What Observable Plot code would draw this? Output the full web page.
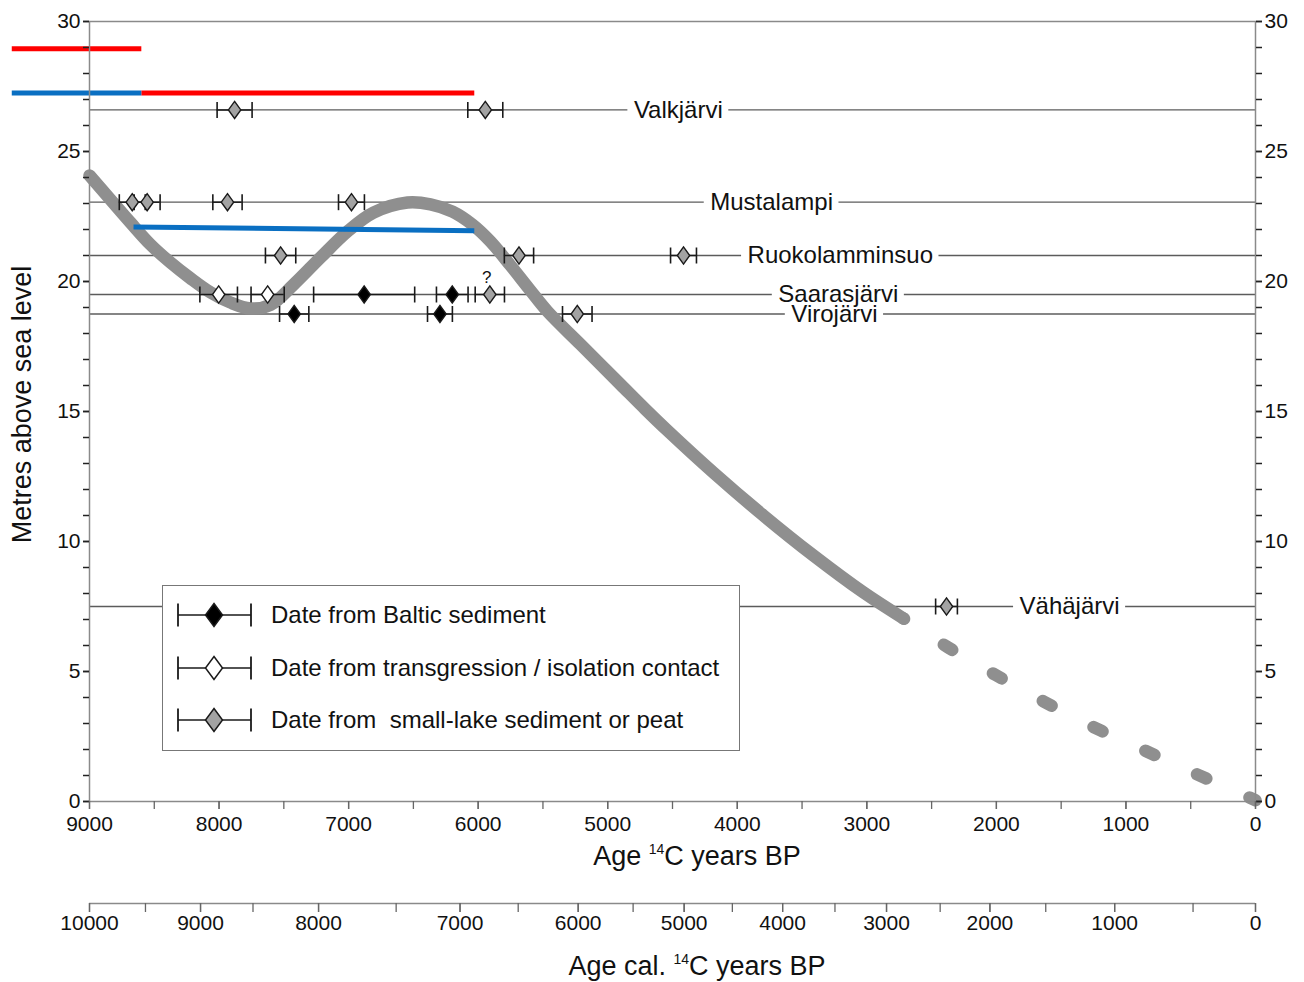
<!DOCTYPE html>
<html><head><meta charset="utf-8">
<script src="https://cdn.jsdelivr.net/npm/d3@7"></script>
<script src="https://cdn.jsdelivr.net/npm/@observablehq/plot@0.6"></script>
<style>
body{margin:0;background:#fff;font-family:"Liberation Sans",Arial,sans-serif;color:#111;}
#wrap{position:relative;width:1304px;height:982px;overflow:hidden;background:#fff;}
.abs{position:absolute;}
.title{font-size:27px;line-height:27px;text-align:center;white-space:nowrap;}
.title .sup{font-size:14px;position:relative;top:-11px;}
#legend{left:162px;top:585px;width:578px;height:166px;box-sizing:border-box;border:1.3px solid #777;background:#fff;}
#legend .row{position:absolute;left:14px;height:30px;display:flex;align-items:center;}
#legend .row span{font-size:24px;margin-left:18px;white-space:pre;}
</style></head><body><div id="wrap"></div>
<script>
// ---------- data ----------
const lakeNames = ["Valkjärvi", "Mustalampi", "Ruokolamminsuo", "Saarasjärvi", "Virojärvi", "Vähäjärvi"];
const lakeElev = [26.6, 23.05, 21.0, 19.5, 18.75, 7.5];
const lakeLabelAge = [4455, 3735, 3205, 3220, 3250, 1435];

const dateLake = ["Valkjärvi", "Valkjärvi",
  "Mustalampi", "Mustalampi", "Mustalampi", "Mustalampi",
  "Ruokolamminsuo", "Ruokolamminsuo", "Ruokolamminsuo",
  "Saarasjärvi", "Saarasjärvi", "Saarasjärvi", "Saarasjärvi", "Saarasjärvi",
  "Virojärvi", "Virojärvi", "Virojärvi",
  "Vähäjärvi"];
const dateAge = [7880, 5945, 8670, 8555, 7935, 6978, 7525, 5685, 4415, 8003, 7625, 6880, 6200, 5910, 7420, 6295, 5235, 2385];
const dateErr = [135, 135, 100, 100, 113, 100, 117, 113, 100, 145, 128, 390, 122, 113, 113, 96, 114, 84];
const dateType = ["lake", "lake", "lake", "lake", "lake", "lake", "lake", "lake", "lake",
  "contact", "contact", "baltic", "baltic", "lake", "baltic", "baltic", "lake", "lake"];
const dateQuery = [false, false, false, false, false, false, false, false, false,
  false, false, false, false, true, false, false, false, false];

const typeKeys = ["baltic", "contact", "lake"];
const typeLabels = ["Date from Baltic sediment", "Date from transgression / isolation contact", "Date from  small-lake sediment or peat"];

// shore displacement curve (solid part) and extrapolated (dashed) part
const shoreAge = [9000, 8838, 8684, 8529, 8375, 8220, 8066, 7912, 7757, 7603, 7425, 7217, 7009, 6808, 6545, 6368, 6198, 6044, 5905, 5751, 5596, 5465, 5210, 4901, 4708, 4539, 4184, 3798, 3412, 3026, 2717];
const shoreElev = [24.08, 23.15, 22.27, 21.42, 20.73, 20.12, 19.58, 19.19, 18.96, 19.1, 19.88, 20.92, 21.92, 22.65, 23.04, 22.97, 22.69, 22.19, 21.54, 20.62, 19.65, 18.85, 17.58, 16.04, 15.08, 14.27, 12.65, 11.0, 9.46, 8.04, 7.04];
const dashAge = [2717, 2370, 2000, 1636, 1258, 872, 486, 100, 0];
const dashElev = [7.04, 5.92, 4.85, 3.85, 2.88, 2.0, 1.12, 0.27, 0.05];

// level indications (two series)
const levelSeries = ["A", "B", "A", "B"];
const levelAge1 = [9600, 9600, 8600, 8660];
const levelAge2 = [8600, 8600, 6030, 6030];
const levelElev1 = [28.95, 27.25, 27.25, 22.1];
const levelElev2 = [28.95, 27.25, 27.25, 21.95];

// axes
const yMajor = [0, 5, 10, 15, 20, 25, 30];
const yMinor = d3.range(0, 31, 1);
const xMajor = [9000, 8000, 7000, 6000, 5000, 4000, 3000, 2000, 1000, 0];
const xMinor = d3.range(0, 9001, 500);
// calibrated years and their 14C-age equivalents
const calAge = [10000, 9500, 9000, 8500, 8000, 7500, 7000, 6500, 6000, 5500, 5000, 4500, 4000, 3500, 3000, 2500, 2000, 1500, 1000, 500, 0];
const calC14 = [9000, 8568, 8143, 7738, 7232, 6633, 6140, 5691, 5228, 4804, 4410, 4038, 3650, 3246, 2848, 2434, 2050, 1619, 1087, 482, 0];

// ---------- layout constants ----------
const FONT = "'Liberation Sans', Arial, sans-serif";
const M = {left: 89, right: 49, top: 21, bottom: 79};
const W = 1304, H = 880;
const LABEL_SIZE = 24, LABEL_PAD = 6;

// ---------- tables ----------
const xs = Plot.scale({x: {domain: [9000, 0], range: [M.left, W - M.right]}});
const yearsPerPx = xs.invert(0) - xs.invert(1);
const ctx = document.createElement("canvas").getContext("2d");
ctx.font = `${LABEL_SIZE}px 'Liberation Sans', Arial, sans-serif`;

const lakes = lakeNames.map((name, i) => ({name, elev: lakeElev[i], labelAge: lakeLabelAge[i], half: (ctx.measureText(name).width / 2 + LABEL_PAD) * yearsPerPx}));
const lakeSegs = lakes.flatMap(d => [
  {elev: d.elev, x1: 9000, x2: d.labelAge + d.half},
  {elev: d.elev, x1: d.labelAge - d.half, x2: 0}
]);
const elevOf = new Map(lakes.map(d => [d.name, d.elev]));
const dates = dateAge.map((age, i) => ({lake: dateLake[i], age, err: dateErr[i], type: dateType[i], query: dateQuery[i], elev: elevOf.get(dateLake[i])}));
const shore = shoreAge.map((a, i) => ({age: a, elev: shoreElev[i]}));
const dash = dashAge.map((a, i) => ({age: a, elev: dashElev[i]}));
const levels = levelSeries.map((s, i) => ({series: s, x1: levelAge1[i], x2: levelAge2[i], y1: levelElev1[i], y2: levelElev2[i]}));
const cal = calAge.map((c, i) => ({cal: c, c14: calC14[i]}));
const calLabelOf = new Map(cal.map(d => [d.c14, String(d.cal)]));

// ---------- symbols ----------
const diamond = {draw(c, size) { const r = Math.sqrt(size / Math.PI), h = r * 1.38; c.moveTo(0, -h); c.lineTo(r, 0); c.lineTo(0, h); c.lineTo(-r, 0); c.closePath(); }};
const cap = {draw(c, size) { const r = Math.sqrt(size / Math.PI); c.moveTo(0, -r); c.lineTo(0, r); }};

const fillOf = {baltic: "#000000", contact: "#ffffff", lake: "#a3a3a3"};

const wrap = document.getElementById("wrap");

const main = Plot.plot({
  width: W, height: H,
  marginLeft: M.left, marginRight: M.right, marginTop: M.top, marginBottom: M.bottom,
  style: {fontFamily: FONT, background: "white", color: "#111", overflow: "visible"},
  x: {domain: [9000, 0], label: null},
  y: {domain: [0, 30], label: null},
  color: {domain: typeKeys, range: typeKeys.map(k => fillOf[k])},
  marks: [
    Plot.ruleY(lakeSegs, {y: "elev", x1: "x1", x2: "x2", stroke: "#5c5c5c", strokeWidth: 1.3}),
    Plot.text(lakes, {x: "labelAge", y: "elev", text: "name", fontSize: LABEL_SIZE, fill: "#111"}),
    Plot.line(shore, {x: "age", y: "elev", stroke: "#8f8f8f", strokeWidth: 12.5, curve: "catmull-rom", strokeLinecap: "round", strokeLinejoin: "round"}),
    Plot.line(dash, {x: "age", y: "elev", stroke: "#8f8f8f", strokeWidth: 12.5, curve: "catmull-rom", strokeLinecap: "round", strokeDasharray: "10,47", strokeDashoffset: 9}),
    Plot.link(levels.filter(d => d.series === "A"), {x1: "x1", y1: "y1", x2: "x2", y2: "y2", stroke: "#ff0000", strokeWidth: 5}),
    Plot.link(levels.filter(d => d.series === "B"), {x1: "x1", y1: "y1", x2: "x2", y2: "y2", stroke: "#0a6fc2", strokeWidth: 5}),
    Plot.ruleY(dates, {y: "elev", x1: d => d.age + d.err, x2: d => d.age - d.err, stroke: "#1a1a1a", strokeWidth: 1.5}),
    Plot.dot(dates, {x: d => d.age + d.err, y: "elev", symbol: cap, r: 8, fill: "none", stroke: "#1a1a1a", strokeWidth: 1.6}),
    Plot.dot(dates, {x: d => d.age - d.err, y: "elev", symbol: cap, r: 8, fill: "none", stroke: "#1a1a1a", strokeWidth: 1.6}),
    Plot.dot(dates, {x: "age", y: "elev", symbol: diamond, r: 6.2, fill: "type", stroke: "#1a1a1a", strokeWidth: 1.4}),
    Plot.text(dates.filter(d => d.query), {x: "age", y: "elev", text: () => "?", dy: -17, dx: -3, fontSize: 17, fill: "#111"}),
    Plot.frame({stroke: "#8a8a8a", strokeWidth: 1.5}),
    Plot.axisY({anchor: "left", ticks: yMinor, tickSize: 6, tickFormat: () => "", stroke: "#222", strokeWidth: 1.5, label: null}),
    Plot.axisY({anchor: "left", ticks: yMajor, tickSize: 6, tickPadding: 3, tickFormat: d3.format("d"), fontSize: 21, stroke: "#222", strokeWidth: 1.5, label: null}),
    Plot.axisY({anchor: "right", ticks: yMinor, tickSize: 6, tickFormat: () => "", stroke: "#222", strokeWidth: 1.5, label: null}),
    Plot.axisY({anchor: "right", ticks: yMajor, tickSize: 6, tickPadding: 3, tickFormat: d3.format("d"), fontSize: 21, stroke: "#222", strokeWidth: 1.5, label: null}),
    Plot.axisX({anchor: "bottom", ticks: xMinor, tickSize: 8, tickFormat: () => "", stroke: "#666", strokeWidth: 1.3, label: null}),
    Plot.axisX({anchor: "bottom", ticks: xMajor, tickSize: 8, tickPadding: 7, tickFormat: d3.format("d"), fontSize: 21, stroke: "#666", strokeWidth: 1.3, label: null})
  ]
});
main.style.position = "absolute"; main.style.left = "0px"; main.style.top = "0px";
wrap.appendChild(main);

const calPlot = Plot.plot({
  width: W, height: 102,
  marginLeft: M.left, marginRight: M.right, marginTop: 0, marginBottom: 80,
  style: {fontFamily: FONT, background: "transparent", color: "#111"},
  x: {domain: [9000, 0], label: null},
  y: {domain: [0, 1], axis: null},
  marks: [
    Plot.ruleY([0], {stroke: "#8a8a8a", strokeWidth: 1.5}),
    Plot.axisX({anchor: "bottom", ticks: calC14, tickSize: 9, tickFormat: () => "", stroke: "#666", strokeWidth: 1.3, label: null}),
    Plot.axisX({anchor: "bottom", ticks: cal.filter(d => d.cal % 1000 === 0).map(d => d.c14), tickSize: 9, tickPadding: 3, tickFormat: d => calLabelOf.get(d), fontSize: 21, stroke: "#666", strokeWidth: 1.3, label: null})
  ]
});
calPlot.style.position = "absolute"; calPlot.style.left = "0px"; calPlot.style.top = "881px";
wrap.appendChild(calPlot);

// axis titles
function addDiv(html, cls, css) { const d = document.createElement("div"); d.className = "abs " + cls; d.innerHTML = html; Object.assign(d.style, css); wrap.appendChild(d); return d; }
addDiv('Age <span class="sup">14</span>C years BP', "title", {left: "397px", width: "600px", top: "843px"});
addDiv('Age cal. <span class="sup">14</span>C years BP', "title", {left: "397px", width: "600px", top: "953px"});
addDiv('Metres above sea level', "title", {left: "-178px", width: "400px", top: "391px", transform: "rotate(-90deg)"});

// legend
const legend = addDiv("", "", {});
legend.id = "legend";
const rowTops = [14, 67, 119];
typeKeys.forEach((k, i) => {
  const row = document.createElement("div");
  row.className = "row"; row.style.top = rowTops[i] + "px";
  const svgNS = "http://www.w3.org/2000/svg";
  const svg = document.createElementNS(svgNS, "svg");
  svg.setAttribute("width", "76"); svg.setAttribute("height", "30");
  svg.innerHTML = `<line x1="1" y1="15" x2="74" y2="15" stroke="#1a1a1a" stroke-width="1.6"/>
    <line x1="1" y1="3.5" x2="1" y2="26.5" stroke="#1a1a1a" stroke-width="1.8"/>
    <line x1="74" y1="3.5" x2="74" y2="26.5" stroke="#1a1a1a" stroke-width="1.8"/>
    <path d="M37,3.5L45.5,15L37,26.5L28.5,15Z" fill="${fillOf[k]}" stroke="#1a1a1a" stroke-width="1.5"/>`;
  row.appendChild(svg);
  const t = document.createElement("span"); t.textContent = typeLabels[i];
  row.appendChild(t);
  legend.appendChild(row);
});
</script></body></html>
